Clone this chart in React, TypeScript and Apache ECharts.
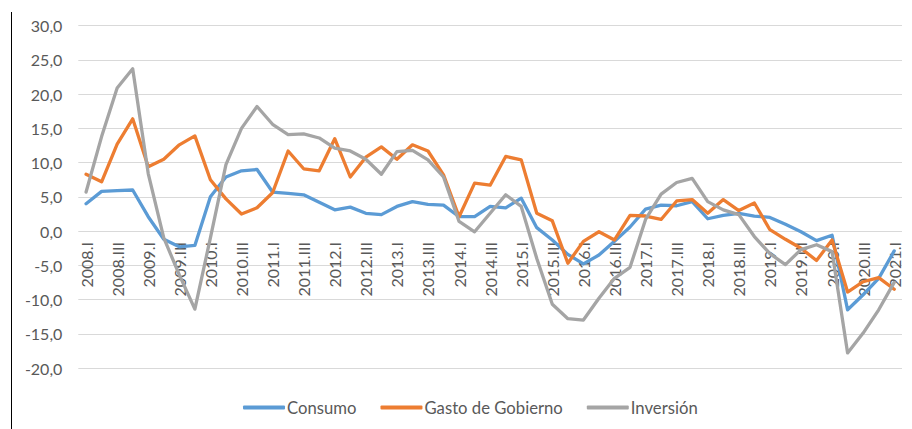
import React, { useEffect, useRef } from "react";
import * as echarts from "echarts";

const years = [2008, 2009, 2010, 2011, 2012, 2013, 2014, 2015, 2016, 2017, 2018, 2019, 2020];
const quarters = ["I", "II", "III", "IV"];
const categories: string[] = [];
years.forEach((y) => quarters.forEach((q) => categories.push(`${y}.${q}`)));
categories.push("2021.I");

const consumo = [
  4.0, 5.8, 5.9, 6.0, 2.1, -1.2, -2.3, -2.1, 5.0, 7.9, 8.8, 9.0, 5.7, 5.5, 5.3, 4.2,
  3.1, 3.5, 2.6, 2.4, 3.6, 4.3, 3.9, 3.8, 2.1, 2.1, 3.6, 3.4, 4.8, 0.5, -1.3, -3.4,
  -4.8, -3.5, -1.5, 0.6, 3.2, 3.8, 3.7, 4.3, 1.8, 2.3, 2.6, 2.2, 2.0, 1.0, -0.1, -1.4,
  -0.6, -11.5, -9.3, -6.9, -2.9,
];

const gasto = [
  8.3, 7.2, 12.7, 16.4, 9.4, 10.5, 12.6, 13.9, 7.5, 4.7, 2.5, 3.4, 5.6, 11.7, 9.1, 8.8,
  13.5, 7.9, 10.8, 12.3, 10.5, 12.6, 11.7, 8.2, 2.1, 7.0, 6.7, 10.9, 10.4, 2.6, 1.5, -4.7,
  -1.5, -0.1, -1.3, 2.3, 2.2, 1.7, 4.4, 4.6, 2.6, 4.6, 3.0, 4.1, 0.2, -1.2, -2.5, -4.3,
  -1.3, -8.9, -7.4, -6.8, -8.5,
];

const inversion = [
  5.7, 13.8, 20.9, 23.7, 8.4, -1.0, -6.4, -11.4, -1.0, 9.7, 15.0, 18.2, 15.6, 14.1, 14.2, 13.6,
  12.1, 11.7, 10.5, 8.3, 11.6, 11.8, 10.4, 7.9, 1.4, -0.1, 2.6, 5.3, 3.6, -4.0, -10.7, -12.8,
  -13.0, -9.8, -6.9, -5.3, 1.7, 5.4, 7.1, 7.7, 4.3, 3.1, 2.4, -0.8, -3.3, -4.9, -2.7, -2.0,
  -3.0, -17.8, -14.9, -11.5, -7.5,
];

const seriesNames = ["Consumo", "Gasto de Gobierno", "Inversión"];
const colors = ["#5B9BD5", "#ED7D31", "#A5A5A5"];

const Y_MIN = -20;
const Y_MAX = 30;
const Y_STEP = 5;

export default function App() {
  const ref = useRef<HTMLDivElement>(null);
  useEffect(() => {
    if (!ref.current) return;
    const chart = echarts.init(ref.current, undefined, { renderer: "svg" });
    const font = "Lato, 'Noto Sans', sans-serif";
    const dataSets = [consumo, gasto, inversion];
    const gridTop = 25.7;
    const gridBottom = 61;
    const plotH = 429 - gridTop - gridBottom;
    // move the category axis (and its labels) up to the zero line
    const zeroOffset = -plotH * ((0 - Y_MIN) / (Y_MAX - Y_MIN));
    chart.setOption({
      animation: false,
      color: colors,
      textStyle: { fontFamily: font },
      grid: { left: 78.3, right: 10, top: gridTop, bottom: gridBottom },
      legend: {
        left: 238,
        top: 394,
        itemWidth: 42,
        itemHeight: 4,
        itemGap: 24,
        icon: "roundRect",
        data: seriesNames,
        textStyle: { fontSize: 16.7, color: "#595959", fontFamily: font, padding: [0, 0, 0, -3] },
      },
      xAxis: {
        type: "category",
        data: categories,
        boundaryGap: true,
        offset: zeroOffset,
        axisLine: { show: false, onZero: false },
        axisTick: { show: false },
        splitLine: { show: false },
        axisLabel: {
          interval: 1,
          rotate: 90,
          margin: 11,
          fontSize: 16,
          color: "#595959",
          fontFamily: font,
        },
      },
      yAxis: {
        type: "value",
        min: Y_MIN,
        max: Y_MAX,
        interval: Y_STEP,
        axisLine: { show: false },
        axisTick: { show: false },
        splitLine: { show: true, lineStyle: { color: "#D9D9D9", width: 1 } },
        axisLabel: {
          margin: 16,
          fontSize: 16,
          color: "#595959",
          fontFamily: font,
          formatter: (v: number) => v.toFixed(1).replace(".", ","),
        },
      },
      graphic: [
        {
          type: "line",
          shape: { x1: 11.5, y1: 12, x2: 11.5, y2: 429 },
          style: { stroke: "#000000", lineWidth: 1 },
          silent: true,
        },
      ],
      series: seriesNames.map((name, i) => ({
        name,
        type: "line",
        data: dataSets[i],
        symbol: "none",
        lineStyle: { width: 3.3, color: colors[i], cap: "round", join: "round" },
        itemStyle: { color: colors[i] },
        z: 2 + i,
      })),
    });
    return () => chart.dispose();
  }, []);
  return (
    <div
      ref={ref}
      style={{ position: "fixed", left: 0, top: 0, width: 912, height: 429, background: "#fff" }}
    />
  );
}
